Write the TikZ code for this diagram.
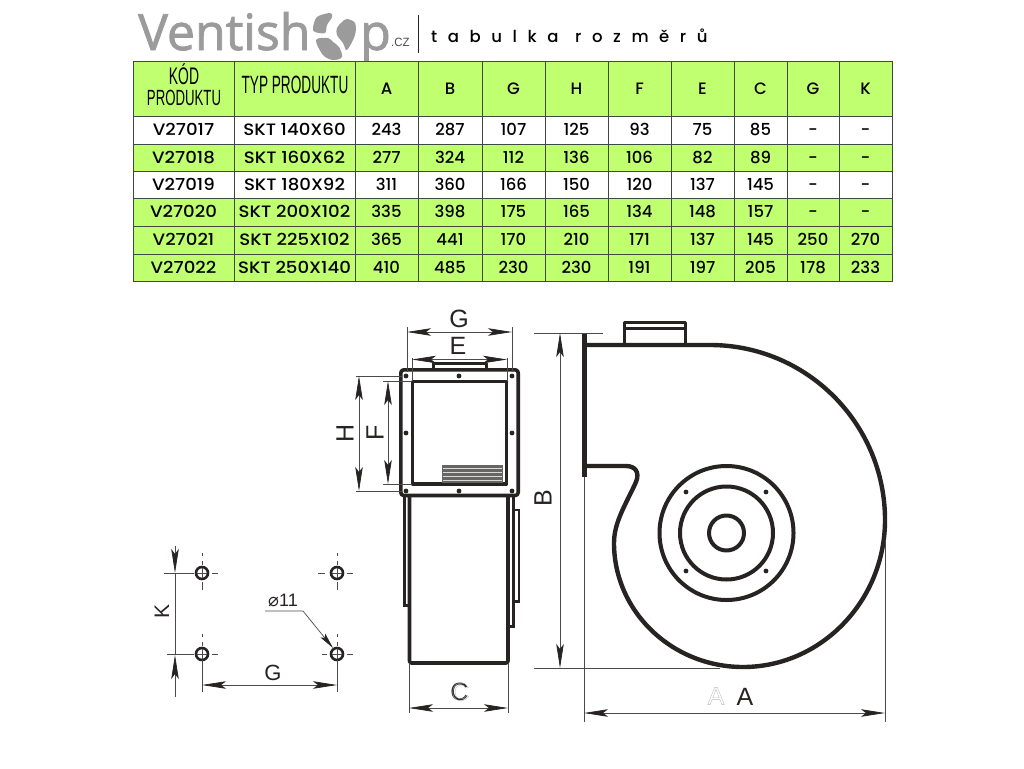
\documentclass[tikz,border=0pt]{standalone}
\usepackage{fontspec}
\usetikzlibrary{arrows.meta}
\setmainfont{Liberation Sans}
\IfFontExistsTF{Poppins Medium}{\newfontfamily\tblfont{Poppins Medium}}{\newfontfamily\tblfont{Poppins}}
\newfontfamily\logofont[FakeBold=1.6]{Open Sans}
\newfontfamily\capfont{Poppins Medium}
\newfontfamily\symfont{DejaVu Sans}
\definecolor{tgreen}{HTML}{BFFF70}
\definecolor{tline}{HTML}{404840}
\definecolor{dimc}{HTML}{4A4A4A}
\definecolor{logoc}{HTML}{9B9B9B}
\definecolor{ink}{HTML}{262322}
\newcommand{\hdr}[3]{\scalebox{#2}[1]{\fontsize{#1}{#1}\selectfont #3}}
\newcommand{\wide}[1]{\scalebox{1.1}[1]{#1}}
\newcommand{\ghost}[1]{\special{pdf:code q 1 Tr 0.35 w 0.72 G}#1\special{pdf:code Q}}
\tikzset{
  tip/.tip={Stealth[length=24pt,width=7.5pt,inset=5pt,color=ink]},
  dimline/.style={draw=dimc,line width=0.7pt},
  dimarrow/.style={dimline,tip-tip},
  thick body/.style={draw=ink,line width=3.6pt,line join=round},
  thin body/.style={draw=ink,line width=3pt},
  dimtext/.style={text=ink,font=\fontsize{25}{25}\selectfont,inner sep=0pt},
  cellt/.style={text=black,font=\tblfont\fontsize{16.5}{16.5}\selectfont,inner sep=0pt,anchor=base},
  titlet/.style={anchor=base west,inner sep=0pt,text=black,font={\capfont\addfontfeature{LetterSpace=64}\fontsize{16.5}{17}\selectfont}},
  hole/.style={fill=ink,draw=none}
}
\begin{document}
\begin{tikzpicture}[x=1pt,y=-1pt]
\useasboundingbox (0,0) rectangle (1024,768);
\fill[white] (0,0) rectangle (1024,768);
% ---- logo
\node[anchor=base west,inner sep=0pt,text=logoc,font=\logofont\fontsize{50}{50}\selectfont] (logoa) at (138,50) {Ventish};
\node[anchor=base west,inner sep=0pt,text=logoc,font=\logofont\fontsize{50}{50}\selectfont] (logob) at (360,50) {p};
\node[anchor=base west,inner sep=0pt,text=black!70,font=\fontsize{12}{12}\selectfont] (logoc) at (391,46) {\scalebox{0.95}[1]{.CZ}};
\fill[logoc] plot[smooth cycle,tension=0.55] coordinates {(313,28) (317,17) (330,13) (332,17) (327,25) (325,33) (315,32)};
\fill[logoc] plot[smooth cycle,tension=0.55] coordinates {(337,28) (342,22) (347,19) (355,23) (355,35) (347,50) (343,43) (337,35)};
\fill[logoc] plot[smooth cycle,tension=0.55] coordinates {(316,40) (328,38) (333,42) (339,47) (342,57) (333,60) (323,55)};
\draw[ink,line width=1pt] (418,15) -- (418,53);
\node[titlet] (title) at (431,43) {tabulka};
\node[titlet] (titleb) at (575,43) {rozměrů};
% ---- table
\def\colx{{133,234,355,418,482,545,608,671,734,787,839,892}}
\def\rowy{{61,116,144,171,198,226,254,281}}
\foreach \r/\fc in {0/tgreen,1/white,2/tgreen,3/white,4/tgreen,5/tgreen,6/tgreen}{
  \foreach \c in {0,...,10}{
    \pgfmathsetmacro\xa{\colx[\c]}
    \pgfmathsetmacro\xb{\colx[\c+1]}
    \pgfmathsetmacro\ya{\rowy[\r]}
    \pgfmathsetmacro\yb{\rowy[\r+1]}
    \path[fill=\fc,draw=tline,line width=0.9pt] (\xa,\ya) rectangle (\xb,\yb);
  }
}
\node[text=black,inner sep=0pt,anchor=base] (h1a) at (184,84) {\hdr{24}{0.58}{KÓD}};
\node[text=black,inner sep=0pt,anchor=base] (h1b) at (184,105) {\hdr{22}{0.6}{PRODUKTU}};
\node[text=black,inner sep=0pt] (h2) at (295,85) {\hdr{25}{0.545}{TYP PRODUKTU}};
\foreach \t [count=\c from 2] in {A,B,G,H,F,E,C,G,K}{
  \pgfmathsetmacro\xa{\colx[\c]}
  \pgfmathsetmacro\xb{\colx[\c+1]}
  \node[cellt] (h-\c) at ({(\xa+\xb)/2},94.5) {\t};
}
\foreach \r/\d in {
  1/{\wide{V27017},\wide{SKT 140X60},243,287,107,125,93,75,85,-,-},
  2/{\wide{V27018},\wide{SKT 160X62},277,324,112,136,106,82,89,-,-},
  3/{\wide{V27019},\wide{SKT 180X92},311,360,166,150,120,137,145,-,-},
  4/{\wide{V27020},\wide{SKT 200X102},335,398,175,165,134,148,157,-,-},
  5/{\wide{V27021},\wide{SKT 225X102},365,441,170,210,171,137,145,250,270},
  6/{\wide{V27022},\wide{SKT 250X140},410,485,230,230,191,197,205,178,233}}{
  \pgfmathsetmacro\ya{\rowy[\r]}
  \pgfmathsetmacro\yb{\rowy[\r+1]}
  \foreach \t [count=\c from 0] in \d {
    \pgfmathsetmacro\xa{\colx[\c]}
    \pgfmathsetmacro\xb{\colx[\c+1]}
    \node[cellt] (c-\r-\c) at ({(\xa+\xb)/2},{(\ya+\yb)/2+5.5}) {\t};
  }
}
% ---- front view
\draw[thick body,rounded corners=3pt] (400.8,369.8) rectangle (518.2,495.5);
\draw[thick body] (412.5,381.5) rectangle (506.5,484);
\draw[thick body,line width=3pt] (433.5,368) -- (433.5,363.5) -- (486.5,363.5) -- (486.5,368);
\fill[ink!70] (442,465) rectangle (503,483);
\foreach \y in {468.5,472.5,476.5,480}{ \draw[white!85!black,line width=1pt] (443,\y) -- (502,\y); }
\foreach \x in {406,459,512}{
  \fill[hole] (\x,376) circle (2.4pt);
  \fill[hole] (\x,491) circle (2.4pt);
}
\fill[hole] (406,433) circle (2.4pt);
\fill[hole] (512,433) circle (2.4pt);
% body
\draw[thick body,rounded corners=2pt] (409.5,497) -- (409.5,663) -- (508,663) -- (508,497);
\draw[thin body] (409,605) -- (404,605) -- (404,497);
\draw[thin body] (508,626.5) -- (513.5,626.5) -- (513.5,497);
\draw[thin body,line width=2.4pt] (513.5,510) -- (519,510) -- (519,601.5) -- (513.5,601.5);
% dims front
\draw[dimline] (407,327) -- (407,372);
\draw[dimline] (512,327) -- (512,372);
\draw[dimarrow] (407,332) -- (512,332);
\node[dimtext] (gt) at (459,319) {G};
\draw[dimline] (412,358) -- (412,381);
\draw[dimline] (507,358) -- (507,381);
\draw[dimarrow] (412,359.5) -- (507,359.5);
\node[dimtext] (et) at (458,346) {E};
\draw[dimline] (356,376) -- (402,376);
\draw[dimline] (356,491) -- (402,491);
\draw[dimarrow] (359,376) -- (359,491);
\node[dimtext,rotate=90] (ht) at (345,433) {H};
\draw[dimline] (383,381) -- (412,381);
\draw[dimline] (383,484) -- (412,484);
\draw[dimarrow] (388,381) -- (388,484);
\node[dimtext,rotate=90] (ft) at (375,433) {F};
% dims C
\draw[dimline] (409,663) -- (409,713);
\draw[dimline] (508,663) -- (508,713);
\draw[dimarrow] (409,708) -- (508,708);
\node[dimtext] (ct) at (459.5,692) {C};
\node[dimtext] (ctg) at (460.5,692) {\ghost{C}};
% ---- side view
\draw[thick body,line width=4.8pt] (584.5,333) -- (584.5,477);
\draw[thick body,line width=4.4pt] (584,345) -- (710,345)
  .. controls (806.6,345) and (885,423.4) .. (885,520)
  .. controls (885,601) and (821,667) .. (743,667)
  .. controls (672,667) and (614,611.5) .. (614,543)
  .. controls (614,522) and (626,504) .. (636,482)
  .. controls (640,472) and (635,466) .. (626,466)
  -- (584,466);
\draw[thick body,line width=3pt] (624,345) -- (624,322) -- (685,322) -- (685,345);
\draw[draw=ink,line width=2.6pt] (624,328.5) -- (685,328.5);
\draw[thick body,line width=4pt] (726.5,533) circle (67pt);
\draw[thick body,line width=4pt] (726.5,533) circle (46.5pt);
\draw[thick body,line width=4pt] (726.5,533) circle (17.5pt);
\foreach \x in {686,766}{ \foreach \y in {492,571}{ \fill[hole] (\x,\y) circle (2.4pt); } }
% dims side
\draw[dimline] (534,333) -- (603,333);
\draw[dimline] (534,668) -- (720,668);
\draw[dimarrow] (560,333) -- (560,668);
\node[dimtext,rotate=90] (bt) at (543,498) {B};
\draw[dimline] (584,477) -- (584,722);
\draw[dimline] (885,540) -- (885,722);
\draw[dimarrow] (584,713) -- (885,713);
\node[dimtext] (at) at (745,697) {A};
\node[dimtext] (atg) at (716,696) {\ghost{A}};
% ---- hole pattern
\foreach \x/\y in {202/573,337/573,202/654,337/654}{
  \draw[draw=ink,line width=2.6pt] (\x,\y) circle (6pt);
  \draw[dimline] (\x-5,\y) -- (\x+5,\y) (\x,\y-5) -- (\x,\y+5);
  \draw[dimline] (\x+10,\y) -- (\x+16,\y) (\x,\y-20) -- (\x,\y-17) (\x,\y-12) -- (\x,\y-8);
}
\draw[dimline] (318,573) -- (325,573) (322,654) -- (327,654);
\draw[dimline] (202,582) -- (202,590);
\draw[dimline] (337,582) -- (337,590);
\draw[dimline] (164,573) -- (194,573);
\draw[dimline] (167,654) -- (194,654);
\draw[dimline,-tip] (175,546) -- (175,573);
\draw[dimline] (175,573) -- (175,654);
\draw[dimline,-tip] (175,697) -- (175,655);
\draw[dimline] (202,660) -- (202,692);
\draw[dimline] (337,660) -- (337,692);
\draw[dimarrow] (202,685) -- (337,685);
\node[dimtext,font=\fontsize{22}{22}\selectfont] (gb) at (273,673) {G};
\node[dimtext,font=\fontsize{21}{21}\selectfont,rotate=90] (kt) at (162,611) {K};
\node[inner sep=0pt,text=ink,font=\fontsize{18}{18}\selectfont] (dia) at (283,600) {{\symfont ⌀}11};
\draw[dimline,-{Stealth[length=16pt,width=6pt,inset=3pt,color=ink]}] (265,611) -- (303,611) -- (333,648);
\end{tikzpicture}
\end{document}
